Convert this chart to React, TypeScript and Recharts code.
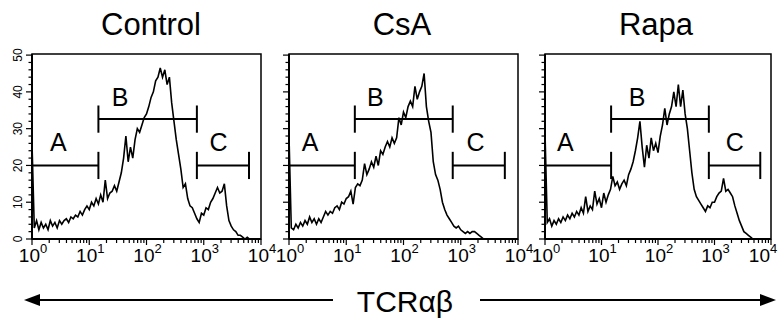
import { LineChart, Line, XAxis, YAxis, ReferenceLine, ReferenceArea, ReferenceDot } from "recharts";

// histogram counts, 25 channels per decade from 10^0 to 10^4
const CH_PER_DECADE = 25;

const controlCounts = [
  26, 3, 5, 2.5, 4.5, 3, 4, 2.5, 5, 3.5,
  4.5, 3, 5, 4, 5, 5.5, 4.5, 6, 5.5, 6.5,
  6, 7.5, 6.5, 8, 9, 8, 10, 9, 11, 9.5,
  12, 10, 16, 11, 12.5, 13, 14.5, 13, 15.5, 18,
  22, 28, 21, 25, 22, 27, 30, 29, 31, 33,
  34, 36, 38.5, 40, 43, 44, 46.5, 44, 46, 42,
  44, 37, 32, 27, 23, 19, 14, 15, 11, 9,
  8.5, 7, 5.5, 4.5, 7, 6.5, 8.5, 8, 10, 11,
  12.5, 14, 12.5, 13, 15, 9, 5, 3.5, 2.5, 2,
  1, 1, 0.5, 0, 0.5, 0, 0, 0, 0, 0, 0,
];

const csaCounts = [
  28, 3, 2.5, 4, 3, 4.5, 3.5, 5, 4, 6,
  4.5, 5.5, 4, 5.5, 4.5, 6, 7.5, 6.5, 7.5, 7,
  8.5, 9, 8, 10, 9.5, 11, 11.5, 13, 9.5, 14,
  15, 14.5, 16, 20.5, 17.5, 19, 21, 19.5, 22.5, 20,
  24, 23, 25, 26.5, 25, 27.5, 26, 27.5, 33, 31,
  34.5, 33, 36, 37.5, 36, 41.5, 38, 40, 41.5, 45,
  36, 32, 29, 21, 17.5, 16, 13.5, 10, 8, 6.5,
  5.5, 4.5, 3.5, 3, 3.5, 2.5, 2, 1.5, 2, 1.5,
  2, 2, 1.5, 1, 0.5, 0, 0, 0, 0, 0,
  0, 0, 0, 0, 0, 0, 0, 0, 0, 0, 0,
];

const rapaCounts = [
  29, 4.5, 5.5, 3.5, 5, 4, 5.5, 4.5, 6, 5,
  6.5, 5.5, 7, 6, 7.5, 6.5, 8.5, 7, 11.5, 7.5,
  9, 8, 13, 9.5, 11, 8.5, 12.5, 10, 12, 13.5,
  17, 14.5, 15.5, 13.5, 15, 16, 14.5, 17.5, 19, 21,
  24, 27.5, 32, 25, 19.5, 25.5, 22, 27.5, 24, 26,
  23.5, 28, 31, 35.5, 31, 34, 36, 40, 36, 42,
  36, 40.5, 34, 30, 24, 18, 13.5, 11.5, 10.5, 9.5,
  8.5, 7.5, 9, 8.5, 10, 10, 11.5, 12.5, 13, 16.5,
  13, 13.5, 12.5, 11.5, 9, 7, 5, 3.5, 2, 1.5,
  1, 0.5, 0, 0, 0, 0, 0, 0, 0, 0, 0,
];

// gate ends in decades (A starts at 10^0), gate heights in counts
const controlGates = [1.16, 2.88, 3.79];
const csaGates = [1.15, 2.86, 3.77];
const rapaGates = [1.17, 2.9, 3.81];
const gateLevels = [20, 32.6, 20];
const gateNames = ["A", "B", "C"];

// gate label anchors [decade, count]
const controlLabels = [[0.46, 26.5], [1.54, 38.5], [3.26, 26.5]];
const csaLabels = [[0.37, 26.5], [1.51, 38.5], [3.26, 26.5]];
const rapaLabels = [[0.36, 26.5], [1.63, 38.5], [3.36, 26.5]];

const titles = ["Control", "CsA", "Rapa"];
const decadeTicks = [0, 1, 2, 3, 4];
const countTicks = [0, 10, 20, 30, 40, 50];
const axisLabel = "TCRαβ";

const FONT = "'Liberation Sans', Arial, Helvetica, sans-serif";
const TOP = 54;
const BOTTOM = 239;
const HALF_TICK = 3.7;
const PAD_RIGHT = 16;

const minorX: number[] = [];
for (let d = 0; d < 4; d++) {
  for (let k = 2; k <= 9; k++) minorX.push(d + Math.log10(k));
}
const minorY: number[] = [];
for (let v = 0; v <= 50; v += 2) minorY.push(v);

const toData = (counts: number[]) =>
  counts.map((v, i) => ({ d: i / CH_PER_DECADE, v }));

const XTick = (props: any) => {
  const { x, y, payload, maxRight } = props;
  const val = payload.value;
  const major = decadeTicks.includes(val);
  // keep the last label inside the page
  const shift = Math.min(0, maxRight - (x + 14));
  return (
    <g>
      <line x1={x} x2={x} y1={y} y2={y + (major ? 6 : 4)} stroke="#000" strokeWidth={1.2} />
      {major && (
        <text x={x + 1 + shift} y={y + 23} textAnchor="middle" fontSize={19} fontFamily={FONT} fill="#000">
          10<tspan dy={-9} fontSize={13}>{val}</tspan>
        </text>
      )}
    </g>
  );
};

const YTick = (props: any) => {
  const { x, y, payload, showLabel } = props;
  const val = payload.value;
  const major = countTicks.includes(val);
  return (
    <g>
      <line x1={x - (major ? 6 : 3.5)} x2={x} y1={y} y2={y} stroke="#000" strokeWidth={1.2} />
      {major && showLabel && (
        <text
          x={x - 10}
          y={y}
          transform={`rotate(-90, ${x - 10}, ${y})`}
          textAnchor="middle"
          fontSize={12}
          fontFamily={FONT}
          fill="#000"
        >
          {val}
        </text>
      )}
    </g>
  );
};

function Panel({
  counts,
  gates,
  labels,
  divLeft,
  plotLeft,
  plotRight,
  showY,
}: {
  counts: number[];
  gates: number[];
  labels: number[][];
  divLeft: number;
  plotLeft: number;
  plotRight: number;
  showY: boolean;
}) {
  const data = toData(counts);
  const starts = [0, gates[0], gates[1]];
  const maxRight = 776 - divLeft;
  return (
    <div style={{ position: "absolute", left: divLeft, top: 0 }}>
      <LineChart
        width={plotRight - divLeft + PAD_RIGHT}
        height={BOTTOM + 31}
        data={data}
        margin={{ top: TOP, right: PAD_RIGHT, bottom: 0, left: 0 }}
      >
        <XAxis
          dataKey="d"
          type="number"
          domain={[0, 4]}
          ticks={[...decadeTicks, ...minorX]}
          interval={0}
          height={31}
          tickSize={0}
          tickMargin={0}
          tickLine={false}
          axisLine={{ stroke: "#000", strokeWidth: 2 }}
          tick={(p: any) => <XTick {...p} maxRight={maxRight} />}
        />
        <YAxis
          type="number"
          domain={[0, 50.3]}
          ticks={minorY}
          interval={0}
          width={plotLeft - divLeft}
          tickSize={0}
          tickMargin={0}
          tickLine={false}
          axisLine={{ stroke: "#000", strokeWidth: 2 }}
          tick={(p: any) => <YTick {...p} showLabel={showY} />}
        />
        <ReferenceArea x1={0} x2={4} y1={0} y2={50.3} fill="none" stroke="#000" strokeWidth={1.5} />
        {gateLevels.map((lvl, g) => (
          <ReferenceLine
            key={"h" + g}
            segment={[{ x: starts[g], y: lvl }, { x: gates[g], y: lvl }]}
            stroke="#000"
            strokeWidth={2}
          />
        ))}
        {gateLevels.map((lvl, g) => (
          <ReferenceLine
            key={"e" + g}
            segment={[{ x: gates[g], y: lvl - HALF_TICK }, { x: gates[g], y: lvl + HALF_TICK }]}
            stroke="#000"
            strokeWidth={2}
          />
        ))}
        {gateLevels.map((lvl, g) =>
          g === 0 ? null : (
            <ReferenceLine
              key={"s" + g}
              segment={[{ x: starts[g], y: lvl - HALF_TICK }, { x: starts[g], y: lvl + HALF_TICK }]}
              stroke="#000"
              strokeWidth={2}
            />
          )
        )}
        {labels.map(([lx, ly], g) => (
          <ReferenceDot
            key={"l" + g}
            x={lx}
            y={ly}
            r={8}
            shape={(p: any) => (
              <text
                x={p.cx}
                y={p.cy + 9}
                textAnchor="middle"
                fontSize={25}
                fontFamily={FONT}
                fill="#000"
              >
                {gateNames[g]}
              </text>
            )}
          />
        ))}
        <Line
          dataKey="v"
          type="linear"
          stroke="#000"
          strokeWidth={1.6}
          dot={false}
          isAnimationActive={false}
        />
      </LineChart>
    </div>
  );
}

export default function App() {
  return (
    <div
      style={{
        position: "absolute",
        left: 0,
        top: 0,
        width: 778,
        height: 322,
        background: "#fff",
        overflow: "hidden",
      }}
    >
      <Panel counts={controlCounts} gates={controlGates} labels={controlLabels} divLeft={0} plotLeft={32} plotRight={261} showY />
      <Panel counts={csaCounts} gates={csaGates} labels={csaLabels} divLeft={269} plotLeft={289} plotRight={518} showY={false} />
      <Panel counts={rapaCounts} gates={rapaGates} labels={rapaLabels} divLeft={525} plotLeft={545} plotRight={771} showY={false} />
      <svg width={778} height={322} style={{ position: "absolute", left: 0, top: 0, pointerEvents: "none" }}>
        <g fontFamily={FONT} fill="#000" textAnchor="middle">
          <text x={151} y={35} fontSize={31}>{titles[0]}</text>
          <text x={402} y={35} fontSize={31}>{titles[1]}</text>
          <text x={656} y={35} fontSize={31}>{titles[2]}</text>
          <text x={405} y={312} fontSize={30}>{axisLabel}</text>
        </g>
        <line x1={36} x2={333} y1={300} y2={300} stroke="#000" strokeWidth={2} />
        <polygon points="24,300 40,294 40,306" fill="#000" />
        <line x1={480} x2={764} y1={300} y2={300} stroke="#000" strokeWidth={2} />
        <polygon points="776,300 760,294 760,306" fill="#000" />
      </svg>
    </div>
  );
}
